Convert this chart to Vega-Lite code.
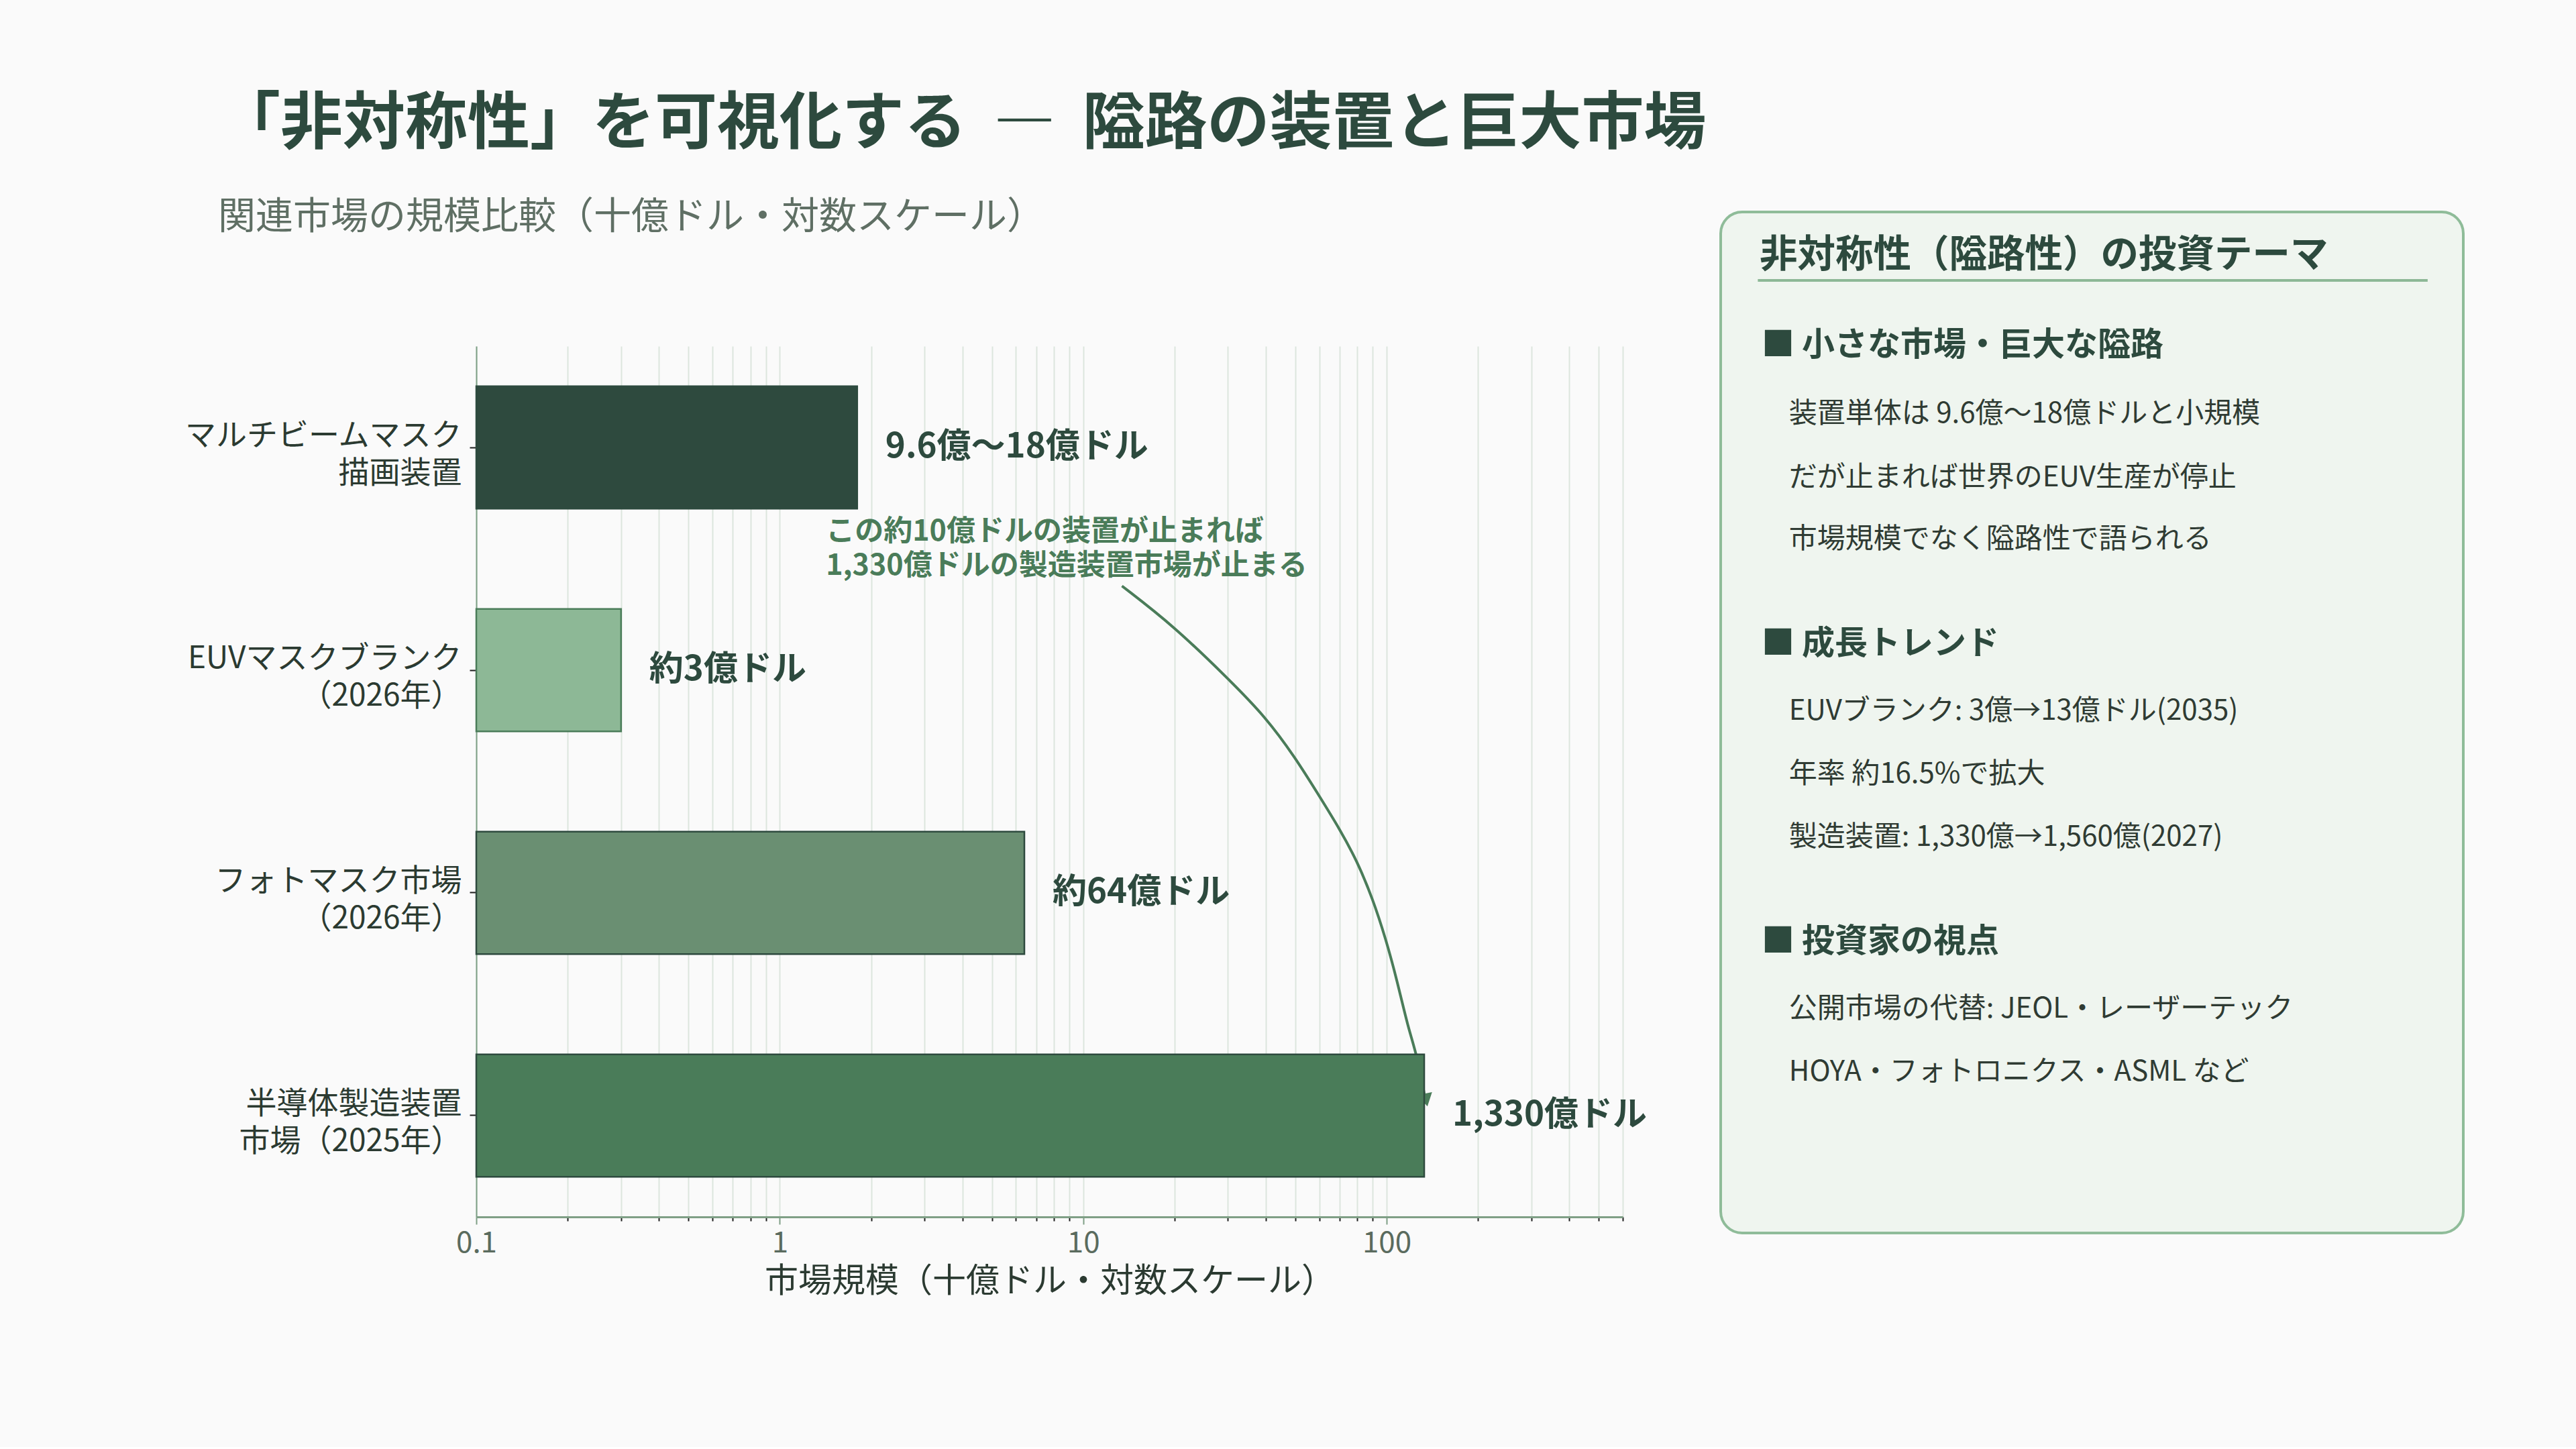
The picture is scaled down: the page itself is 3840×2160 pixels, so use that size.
{
  "$schema": "https://vega.github.io/schema/vega-lite/v6.json",
  "background": "#fafafa",
  "padding": {"left": 274, "top": 140, "right": 166, "bottom": 222},
  "bounds": "flush",
  "title": {"text": "「非対称性」を可視化する \u2009―\u2009 隘路の装置と巨大市場", "anchor": "start", "fontSize": 93, "fontWeight": "bold", "color": "#2d4a3e", "font": "Noto Sans CJK JP", "dx": 51, "offset": 62},
  "spacing": 146,
  "config": {"font": "Noto Sans CJK JP", "view": {"stroke": null}},
  "hconcat": [
    {
      "width": 1709,
      "height": 1298,
      "title": {"text": "関連市場の規模比較（十億ドル・対数スケール）", "anchor": "start", "fontSize": 56, "fontWeight": "normal", "color": "#5f6f64", "dx": 51, "offset": 163},
      "encoding": {
        "x": {
          "field": "value", "type": "quantitative",
          "scale": {"type": "log", "domain": [0.1, 600], "nice": false},
          "axis": {
            "values": [0.1,0.2,0.3,0.4,0.5,0.6,0.7,0.8,0.9,1,2,3,4,5,6,7,8,9,10,20,30,40,50,60,70,80,90,100,200,300,400,500,600],
            "labelExpr": "datum.value == 0.1 ? '0.1' : datum.value == 1 ? '1' : datum.value == 10 ? '10' : datum.value == 100 ? '100' : ''",
            "grid": true, "gridColor": "#dce5dd", "gridWidth": 2,
            "domainColor": "#7f9f86", "domainWidth": 3,
            "tickColor": {"condition": {"test": "datum.value == 0.1 || datum.value == 1 || datum.value == 10 || datum.value == 100", "value": "#7f9f86"}, "value": "#1f1f1f"},
            "tickSize": {"condition": {"test": "datum.value == 0.1 || datum.value == 1 || datum.value == 10 || datum.value == 100", "value": 11}, "value": 6},
            "tickWidth": 2,
            "labelFontSize": 44, "labelColor": "#5a6b5e", "labelPadding": 6,
            "labelFlush": false, "labelOverlap": false,
            "title": "市場規模（十億ドル・対数スケール）", "titleFontSize": 50, "titleFontWeight": "normal", "titleColor": "#2b3a31", "titlePadding": 10
          }
        }
      },
      "resolve": {"scale": {"y": "independent"}},
      "layer": [
        {
          "encoding": {
            "y": {"field": "u", "type": "quantitative", "scale": {"domain": [-0.4548, 3.4548], "reverse": true, "nice": false, "zero": false}, "axis": null}
          },
          "layer": [
            {
              "data": {"values": [
                {"i": 0, "value": 13.42, "u": 0.622},
                {"i": 1, "value": 19.86, "u": 0.801},
                {"i": 2, "value": 30.09, "u": 1.039},
                {"i": 3, "value": 39.8, "u": 1.208},
                {"i": 4, "value": 50.04, "u": 1.393},
                {"i": 5, "value": 59.79, "u": 1.562},
                {"i": 6, "value": 70.24, "u": 1.716},
                {"i": 7, "value": 79.74, "u": 1.855},
                {"i": 8, "value": 89.83, "u": 2.023},
                {"i": 9, "value": 99.45, "u": 2.208},
                {"i": 10, "value": 108.2, "u": 2.392},
                {"i": 11, "value": 117.8, "u": 2.608},
                {"i": 12, "value": 126.1, "u": 2.73},
                {"i": 13, "value": 134.9, "u": 2.946}
              ]},
              "mark": {"type": "line", "color": "#4a7c59", "strokeWidth": 4, "interpolate": "basis"},
              "encoding": {"order": {"field": "i", "type": "quantitative"}}
            },
            {
              "data": {"values": [{"value": 134.9, "u": 2.93}]},
              "mark": {"type": "point", "shape": "triangle-down", "filled": true, "color": "#4a7c59", "size": 500, "angle": 348, "opacity": 1}
            },
            {
              "data": {"values": [{"value": 1.42, "u": 0.381, "text": "この約10億ドルの装置が止まれば\n1,330億ドルの製造装置市場が止まる"}]},
              "mark": {"type": "text", "align": "left", "baseline": "middle", "lineBreak": "\n", "lineHeight": 51, "fontSize": 43, "fontWeight": "bold", "color": "#4a7c59"},
              "encoding": {"text": {"field": "text"}}
            }
          ]
        },
        {
          "data": {"values": [
            {"name": "マルチビームマスク\n描画装置", "value": 1.8, "label": "9.6億〜18億ドル"},
            {"name": "EUVマスクブランク\n（2026年）", "value": 0.3, "label": "約3億ドル"},
            {"name": "フォトマスク市場\n（2026年）", "value": 6.4, "label": "約64億ドル"},
            {"name": "半導体製造装置\n市場（2025年）", "value": 133, "label": "1,330億ドル"}
          ]},
          "encoding": {
            "y": {
              "field": "name", "type": "nominal", "sort": null,
              "scale": {"paddingInner": 0.45, "paddingOuter": 0.18},
              "axis": {"title": null, "labelExpr": "split(datum.label, '\\n')", "labelFontSize": 46, "labelColor": "#2b3a31", "labelLineHeight": 56, "labelLimit": 0, "labelOffset": -17, "tickSize": 10, "tickColor": "#1f1f1f", "tickWidth": 2, "domainColor": "#7f9f86", "domainWidth": 2, "labelPadding": 12}
            }
          },
          "layer": [
            {
              "mark": {"type": "bar", "strokeWidth": 2.5},
              "encoding": {
                "x2": {"datum": 0.1},
                "color": {"field": "name", "type": "nominal", "legend": null, "scale": {"domain": ["マルチビームマスク\n描画装置", "EUVマスクブランク\n（2026年）", "フォトマスク市場\n（2026年）", "半導体製造装置\n市場（2025年）"], "range": ["#2e4a3e", "#8db896", "#6a8f72", "#4a7c59"]}},
                "stroke": {"field": "name", "type": "nominal", "legend": null, "scale": {"domain": ["マルチビームマスク\n描画装置", "EUVマスクブランク\n（2026年）", "フォトマスク市場\n（2026年）", "半導体製造装置\n市場（2025年）"], "range": ["#2d4a3e", "#4a7c59", "#2d4a3e", "#2d4a3e"]}}
              }
            },
            {
              "mark": {"type": "text", "align": "left", "baseline": "middle", "dx": 42, "fontSize": 51, "fontWeight": "bold", "color": "#2d4a3e"},
              "encoding": {"text": {"field": "label"}}
            }
          ]
        }
      ]
    },
    {
      "width": 1107,
      "height": 1298,
      "layer": [
        {
          "data": {"values": [{}]},
          "mark": {"type": "rect", "fill": "#eff5ef", "stroke": "#8fbc99", "strokeWidth": 4, "cornerRadius": 32},
          "encoding": {
            "x": {"datum": 0, "type": "quantitative", "scale": {"domain": [0, 100], "nice": false, "zero": false}, "axis": null},
            "x2": {"datum": 100},
            "y": {"datum": 0, "type": "quantitative", "scale": {"domain": [2.1505, 16.1075], "reverse": true, "nice": false, "zero": false}, "axis": null},
            "y2": {"datum": 16.366}
          }
        },
        {
          "data": {"values": [{}]},
          "mark": {"type": "rule", "color": "#8db896", "strokeWidth": 4},
          "encoding": {
            "x": {"datum": 5.0, "type": "quantitative", "axis": null},
            "x2": {"datum": 95.2},
            "y": {"datum": 1.097, "type": "quantitative", "axis": null}
          }
        },
        {
          "data": {"name": "panel", "values": [
            {"kind": "heading", "col": 5.24, "row": 0.699, "text": "非対称性（隘路性）の投資テーマ"},
            {"kind": "header", "col": 5.5, "row": 2.14, "text": "■ 小さな市場・巨大な隘路"},
            {"kind": "body", "col": 9.2, "row": 3.237, "text": "装置単体は 9.6億〜18億ドルと小規模"},
            {"kind": "body", "col": 9.2, "row": 4.258, "text": "だが止まれば世界のEUV生産が停止"},
            {"kind": "body", "col": 9.2, "row": 5.247, "text": "市場規模でなく隘路性で語られる"},
            {"kind": "header", "col": 5.5, "row": 6.925, "text": "■ 成長トレンド"},
            {"kind": "body", "col": 9.2, "row": 8.0, "text": "EUVブランク: 3億→13億ドル(2035)"},
            {"kind": "body", "col": 9.2, "row": 9.01, "text": "年率 約16.5%で拡大"},
            {"kind": "body", "col": 9.2, "row": 10.02, "text": "製造装置: 1,330億→1,560億(2027)"},
            {"kind": "header", "col": 5.5, "row": 11.7, "text": "■ 投資家の視点"},
            {"kind": "body", "col": 9.2, "row": 12.77, "text": "公開市場の代替: JEOL・レーザーテック"},
            {"kind": "body", "col": 9.2, "row": 13.78, "text": "HOYA・フォトロニクス・ASML など"}
          ]},
          "encoding": {
            "x": {"field": "col", "type": "quantitative", "axis": null},
            "y": {"field": "row", "type": "quantitative", "axis": null},
            "text": {"field": "text"}
          },
          "layer": [
            {
              "transform": [{"filter": "datum.kind == 'heading'"}],
              "mark": {"type": "text", "align": "left", "baseline": "middle", "fontSize": 56.5, "fontWeight": "bold", "color": "#2d4a3e"}
            },
            {
              "transform": [{"filter": "datum.kind == 'header'"}],
              "mark": {"type": "text", "align": "left", "baseline": "middle", "fontSize": 49, "fontWeight": "bold", "color": "#2d4a3e"}
            },
            {
              "transform": [{"filter": "datum.kind == 'body'"}],
              "mark": {"type": "text", "align": "left", "baseline": "middle", "fontSize": 42, "fontWeight": "normal", "color": "#2f3b33"}
            }
          ]
        }
      ]
    }
  ]
}
